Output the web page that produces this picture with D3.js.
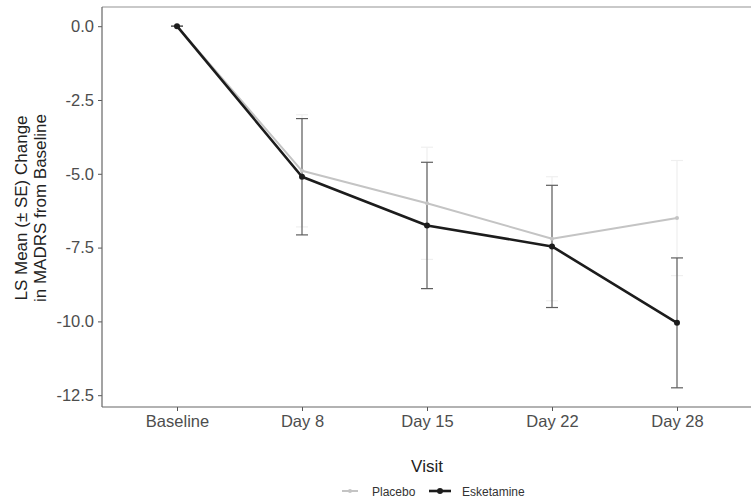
<!DOCTYPE html>
<html>
<head>
<meta charset="utf-8">
<script src="https://cdn.jsdelivr.net/npm/d3@7"></script>
<style>
  html, body { margin: 0; padding: 0; background: #fff; }
  svg { display: block; font-family: "Liberation Sans", Arial, sans-serif; }
</style>
</head>
<body>
<svg id="chart" width="751" height="499"></svg>
<script>
const visits = ["Baseline", "Day 8", "Day 15", "Day 22", "Day 28"];
const placeboMean = [0, -4.9, -6.0, -7.2, -6.5];
const placeboSE = [0, 1.9, 1.9, 2.1, 1.95];
const esketamineMean = [0, -5.1, -6.75, -7.46, -10.05];
const esketamineSE = [0, 1.97, 2.14, 2.07, 2.2];
const yTicks = [0, -2.5, -5, -7.5, -10, -12.5];
const seriesNames = ["Placebo", "Esketamine"];

const svg = d3.select("#chart");
const panel = { left: 102, right: 752, top: 7, bottom: 407 };

const x = d3.scalePoint().domain(visits).range([panel.left, panel.right]).padding(0.6);
const y = d3.scaleLinear().domain([-12.9, 0.65]).range([panel.bottom, panel.top]);

const series = [
  { name: seriesNames[0], mean: placeboMean, se: placeboSE, color: "#c4c4c4", err: "#efefef", width: 2, r: 2 },
  { name: seriesNames[1], mean: esketamineMean, se: esketamineSE, color: "#1c1c1c", err: "#5e5e5e", width: 2.6, r: 3 }
];

const fmt = d => d3.format(".1f")(d).replace("\u2212", "-");

// panel top border (light)
svg.append("line").attr("x1", panel.left).attr("x2", panel.right)
  .attr("y1", panel.top).attr("y2", panel.top)
  .attr("stroke", "#c9c9c9").attr("stroke-width", 2);

// axes
const yAxis = d3.axisLeft(y).tickValues(yTicks).tickSize(4).tickPadding(4).tickFormat(fmt);
const gy = svg.append("g").attr("transform", `translate(${panel.left},0)`).call(yAxis);
gy.select(".domain").remove();
gy.selectAll(".tick line").attr("stroke", "#555");
gy.selectAll(".tick text").attr("fill", "#4d4d4d").attr("font-size", 16.5);

const xAxis = d3.axisBottom(x).tickSize(4).tickPadding(4);
const gx = svg.append("g").attr("transform", `translate(0,${panel.bottom})`).call(xAxis);
gx.select(".domain").remove();
gx.selectAll(".tick line").attr("stroke", "#555");
gx.selectAll(".tick text").attr("fill", "#4d4d4d").attr("font-size", 16.5);

// left and bottom borders
svg.append("line").attr("x1", panel.left).attr("x2", panel.left)
  .attr("y1", panel.top).attr("y2", panel.bottom)
  .attr("stroke", "#666").attr("stroke-width", 1.2);
svg.append("line").attr("x1", panel.left).attr("x2", panel.right)
  .attr("y1", panel.bottom).attr("y2", panel.bottom)
  .attr("stroke", "#666").attr("stroke-width", 1.2);

// error bars
const capW = 6;
series.forEach(s => {
  const g = svg.append("g");
  visits.forEach((v, i) => {
    const cx = x(v);
    const hi = y(s.mean[i] + s.se[i]), lo = y(s.mean[i] - s.se[i]);
    g.append("line").attr("x1", cx).attr("x2", cx).attr("y1", hi).attr("y2", lo)
      .attr("stroke", s.err).attr("stroke-width", 1.2);
    [hi, lo].forEach(yy => g.append("line").attr("x1", cx - capW).attr("x2", cx + capW)
      .attr("y1", yy).attr("y2", yy).attr("stroke", s.err).attr("stroke-width", 1.2));
  });
});

// lines and points
const line = d3.line().x(d => x(d.v)).y(d => y(d.m));
series.forEach(s => {
  const pts = visits.map((v, i) => ({ v, m: s.mean[i] }));
  svg.append("path").datum(pts).attr("d", line)
    .attr("fill", "none").attr("stroke", s.color).attr("stroke-width", s.width)
    .attr("stroke-linejoin", "round");
  svg.append("g").selectAll("circle").data(pts).join("circle")
    .attr("cx", d => x(d.v)).attr("cy", d => y(d.m)).attr("r", s.r)
    .attr("fill", s.color);
});

// axis titles
svg.append("text").attr("x", x("Day 15")).attr("y", 472)
  .attr("text-anchor", "middle").attr("font-size", 17).attr("fill", "#222").text("Visit");
const yt = svg.append("text").attr("transform", "translate(0,208) rotate(-90)")
  .attr("text-anchor", "middle").attr("font-size", 17).attr("fill", "#222");
yt.append("tspan").attr("x", 0).attr("y", 27).text("LS Mean (± SE) Change");
yt.append("tspan").attr("x", 0).attr("y", 46).text("in MADRS from Baseline");

// legend
const legend = svg.append("g").attr("transform", "translate(0,491)");
const legendItems = [
  { s: series[0], kx: 342, kw: 16, tx: 372 },
  { s: series[1], kx: 429, kw: 22, tx: 462 }
];
legendItems.forEach(item => {
  legend.append("line").attr("x1", item.kx).attr("x2", item.kx + item.kw)
    .attr("y1", 0).attr("y2", 0).attr("stroke", item.s.color).attr("stroke-width", item.s.width);
  legend.append("circle").attr("cx", item.kx + item.kw / 2).attr("cy", 0).attr("r", item.s.r)
    .attr("fill", item.s.color);
  legend.append("text").attr("x", item.tx).attr("y", 4.5).attr("font-size", 12)
    .attr("fill", "#333").text(item.s.name);
});
</script>
</body>
</html>
